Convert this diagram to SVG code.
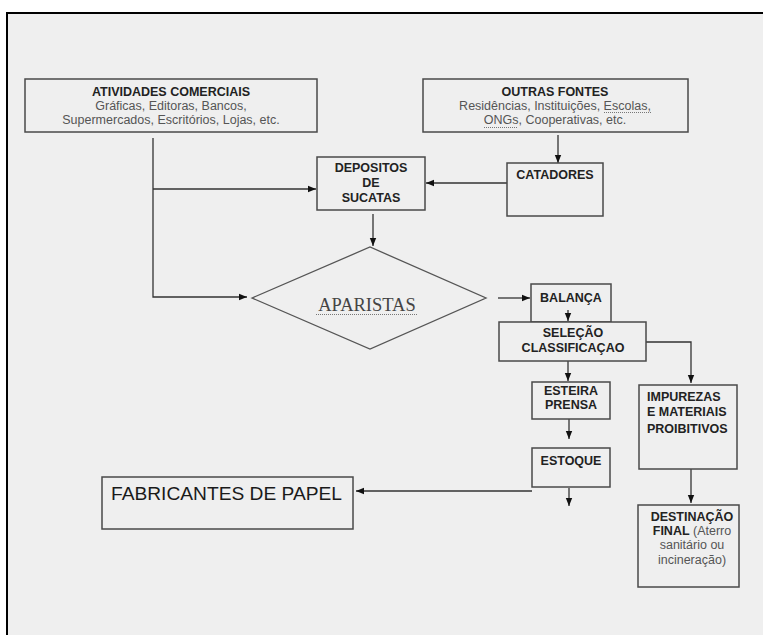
<svg xmlns="http://www.w3.org/2000/svg" width="763" height="635" viewBox="0 0 763 635">
<style>
.box{fill:#efefef;stroke:#4a4a4a;stroke-width:1.5}
.ln{fill:none;stroke:#333;stroke-width:1.3}
.t{font-family:"Liberation Sans",Arial,sans-serif;font-size:12.5px;fill:#555}
.b{font-family:"Liberation Sans",Arial,sans-serif;font-size:12.5px;font-weight:bold;fill:#222}
.m{text-anchor:middle}
.sp{fill:none;stroke:#777;stroke-width:1;stroke-dasharray:1 1}
</style>
<defs>
<marker id="ah" viewBox="0 0 8 8" refX="8" refY="4" markerWidth="8" markerHeight="8" markerUnits="userSpaceOnUse" orient="auto">
<path d="M0,0.8 L8,4 L0,7.2 Z" fill="#111"/>
</marker>
</defs>
<rect x="0" y="0" width="763" height="635" fill="#fff"/>
<rect x="7" y="13" width="800" height="700" fill="#efefef" stroke="#000" stroke-width="2"/>

<g id="connectors">
<path class="ln" d="M558,135 V163" marker-end="url(#ah)"/>
<path class="ln" d="M507,183 H426" marker-end="url(#ah)"/>
<path class="ln" d="M153,138 V297 H247" marker-end="url(#ah)"/>
<path class="ln" d="M153,189 H316" marker-end="url(#ah)"/>
<path class="ln" d="M373,214 V246" marker-end="url(#ah)"/>
<path class="ln" d="M498,298 H530" marker-end="url(#ah)"/>
<path class="ln" d="M646,342 H691 V383" marker-end="url(#ah)"/>
<path class="ln" d="M569,419 V439" marker-end="url(#ah)"/>
<path class="ln" d="M532,491 H356" marker-end="url(#ah)"/>
<path class="ln" d="M569,488 V506" marker-end="url(#ah)"/>
<path class="ln" d="M691,469 V503" marker-end="url(#ah)"/>
<path class="ln" d="M568,361 V381" marker-end="url(#ah)"/>
</g>

<g id="atividades">
<rect class="box" x="25" y="79" width="292" height="53"/>
<text class="b m" x="171" y="96">ATIVIDADES COMERCIAIS</text>
<text class="t m" x="171" y="110">Gráficas, Editoras, Bancos,</text>
<text class="t m" x="171" y="124">Supermercados, Escritórios, Lojas, etc.</text>
</g>

<g id="outras">
<rect class="box" x="423" y="79" width="265" height="53"/>
<text class="b m" x="555" y="96">OUTRAS FONTES</text>
<text class="t m" x="555" y="110">Residências, Instituições, Escolas,</text>
<text class="t m" x="555" y="124">ONGs, Cooperativas, etc.</text>
<path class="sp" d="M604,112.5 H652 M484,127.5 H518"/>
</g>

<g id="depositos">
<rect class="box" x="317" y="157" width="108" height="53"/>
<text class="b m" x="371" y="172">DEPOSITOS</text>
<text class="b m" x="371" y="187">DE</text>
<text class="b m" x="371" y="202">SUCATAS</text>
</g>

<g id="catadores">
<rect class="box" x="507" y="163" width="96" height="53"/>
<text class="b m" x="555" y="179">CATADORES</text>
</g>

<g id="aparistas">
<path d="M252,298 L370,247 L486,298 L370,349 Z" fill="#efefef" stroke="#555" stroke-width="1.3"/>
<text x="367" y="311" text-anchor="middle" font-family="'Liberation Serif','Times New Roman',serif" font-size="18.5" fill="#444">APARISTAS</text>
<path class="sp" d="M316,314.5 H417"/>
</g>

<g id="balanca">
<rect class="box" x="531" y="284" width="80" height="38"/>
<text class="b m" x="571" y="302">BALANÇA</text>
<path class="ln" d="M568,310 V321" marker-end="url(#ah)"/>
</g>

<g id="selecao">
<rect class="box" x="499" y="322" width="147" height="39"/>
<text class="b m" x="573" y="337">SELEÇÃO</text>
<text class="b m" x="573" y="352">CLASSIFICAÇAO</text>
</g>

<g id="esteira">
<rect class="box" x="532" y="382" width="78" height="37"/>
<text class="b m" x="571" y="395">ESTEIRA</text>
<text class="b m" x="571" y="409">PRENSA</text>
</g>

<g id="impurezas">
<rect class="box" x="639" y="385" width="98" height="84"/>
<text class="b" x="647" y="401">IMPUREZAS</text>
<text class="b" x="647" y="416">E MATERIAIS</text>
<text class="b" x="647" y="433">PROIBITIVOS</text>
</g>

<g id="estoque">
<rect class="box" x="532" y="448" width="78" height="39"/>
<text class="b m" x="571" y="465">ESTOQUE</text>
</g>

<g id="fabricantes">
<rect class="box" x="102" y="477" width="251" height="52"/>
<text x="111" y="500" font-family="'Liberation Sans',Arial,sans-serif" font-size="19.2" fill="#1a1a1a">FABRICANTES DE PAPEL</text>
</g>

<g id="destinacao">
<rect class="box" x="638" y="505" width="101" height="82"/>
<text class="b m" x="692" y="521">DESTINAÇÃO</text>
<text class="m" x="692" y="535"><tspan class="b">FINAL</tspan><tspan class="t"> (Aterro</tspan></text>
<text class="t m" x="692" y="549">sanitário ou</text>
<text class="t m" x="692" y="564">incineração)</text>
</g>
</svg>
